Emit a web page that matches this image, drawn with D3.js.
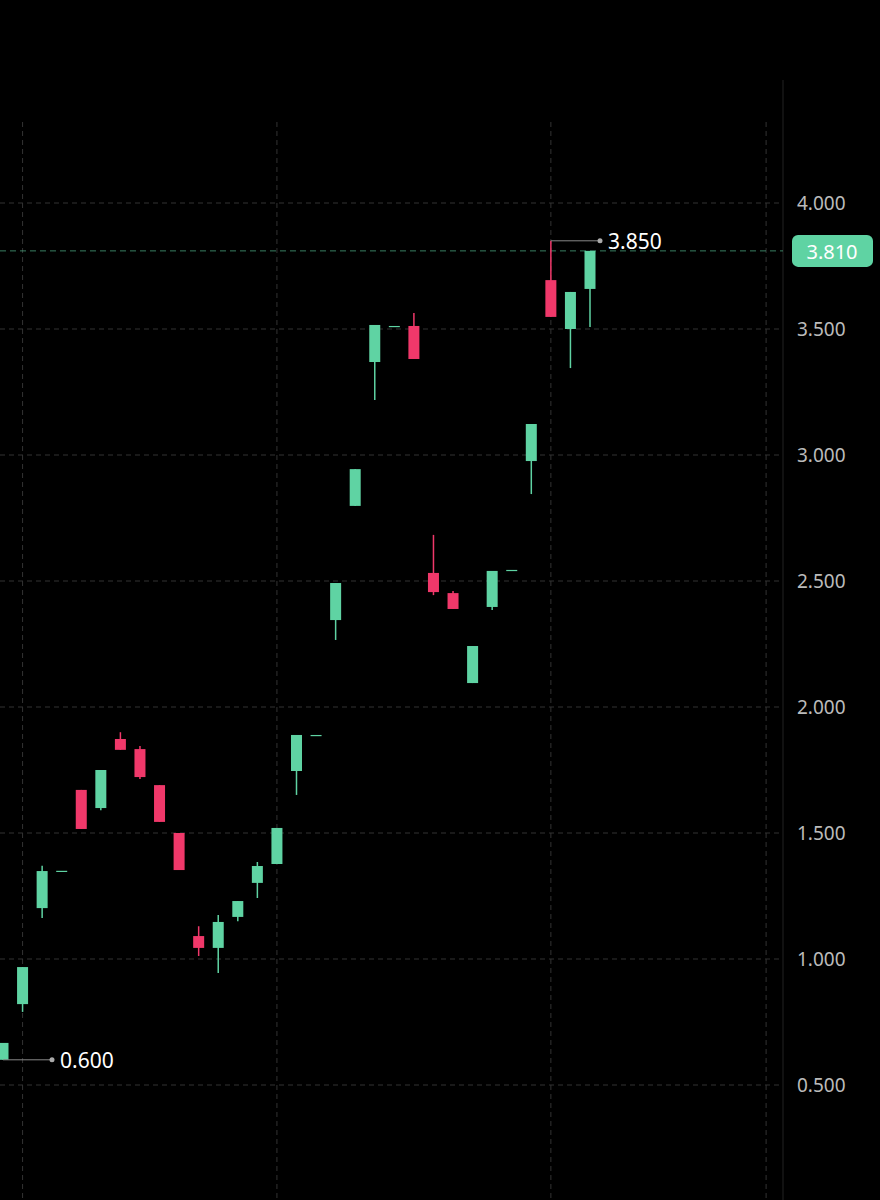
<!DOCTYPE html>
<html><head><meta charset="utf-8">
<script src="https://cdn.jsdelivr.net/npm/d3@7/dist/d3.min.js"></script>
<style>body{margin:0;background:#000}svg{display:block}</style>
</head><body><svg id="c" width="880" height="1200"></svg>
<script>
const opens  = [0.60,0.821,1.202,1.35,1.671,1.599,1.873,1.833,1.69,1.50,1.091,1.044,1.167,1.302,1.377,1.746,1.889,2.345,2.798,3.369,3.512,3.512,2.532,2.452,2.095,2.397,2.544,2.976,3.694,3.50,3.659];
const closes = [0.667,0.968,1.349,1.35,1.516,1.75,1.83,1.722,1.544,1.353,1.044,1.147,1.23,1.369,1.52,1.889,1.889,2.492,2.944,3.516,3.512,3.381,2.456,2.389,2.242,2.54,2.544,3.123,3.548,3.647,3.81];
const highs  = [0.667,0.968,1.37,1.35,1.671,1.75,1.90,1.845,1.69,1.50,1.13,1.175,1.23,1.385,1.52,1.889,1.889,2.492,2.944,3.516,3.512,3.563,2.683,2.46,2.242,2.54,2.544,3.123,3.85,3.647,3.81];
const lows   = [0.60,0.79,1.163,1.35,1.516,1.59,1.83,1.714,1.544,1.353,1.012,0.944,1.15,1.242,1.377,1.651,1.889,2.266,2.798,3.218,3.512,3.381,2.444,2.389,2.095,2.385,2.544,2.845,3.548,3.345,3.508];
const yTicks = [0.5,1.0,1.5,2.0,2.5,3.0,3.5,4.0];
const xGrid  = [1,14,28,39];
const lastPrice = 3.81, maxP = 3.85, maxIdx = 28, minP = 0.60, minIdx = 0;

const svg = d3.select("#c");
const x = d3.scaleLinear().domain([0,30]).range([3,590]);
const y = d3.scaleLinear().domain([0.5,4.0]).range([1085,203]);
const green="#5fd3a3", red="#f0386a";
const fmt = d3.format(".3f");

svg.append("line").attr("x1",783).attr("x2",783).attr("y1",80).attr("y2",1200).attr("stroke","#222");
const gy = svg.append("g");
gy.selectAll("line").data(yTicks).join("line").attr("x1",0).attr("x2",783)
  .attr("y1",d=>y(d)).attr("y2",d=>y(d)).attr("stroke","#333").attr("stroke-dasharray","5,4");
gy.selectAll("text").data(yTicks).join("text").attr("x",797).attr("y",d=>y(d)+7)
  .attr("fill","#bbb").attr("font-family","Noto Sans").attr("font-size",19).text(fmt);
svg.append("g").selectAll("line").data(xGrid).join("line").attr("x1",d=>x(d)).attr("x2",d=>x(d))
  .attr("y1",122).attr("y2",1200).attr("stroke","#333").attr("stroke-dasharray","5,4");

svg.append("line").attr("x1",0).attr("x2",783).attr("y1",y(lastPrice)).attr("y2",y(lastPrice))
  .attr("stroke",green).attr("stroke-opacity",0.6).attr("stroke-dasharray","6,4");
svg.append("rect").attr("x",792).attr("y",y(lastPrice)-16).attr("width",81).attr("height",32).attr("rx",6).attr("fill",green);
svg.append("text").attr("x",832).attr("y",y(lastPrice)+8).attr("text-anchor","middle").attr("fill","#fff")
  .attr("font-family","Noto Sans").attr("font-size",20).text(fmt(lastPrice));

const idx = d3.range(opens.length);
const g = svg.append("g");
g.selectAll("line").data(idx).join("line").attr("x1",i=>x(i)).attr("x2",i=>x(i))
  .attr("y1",i=>y(highs[i])).attr("y2",i=>y(lows[i])).attr("stroke",i=>closes[i]>=opens[i]?green:red).attr("stroke-width",1.5);
g.selectAll("rect").data(idx).join("rect").attr("x",i=>x(i)-5.5).attr("width",11)
  .attr("y",i=>y(Math.max(opens[i],closes[i]))).attr("height",i=>Math.max(1.2,Math.abs(y(opens[i])-y(closes[i]))))
  .attr("fill",i=>closes[i]>=opens[i]?green:red);

function marker(idx,v,tx){
  svg.append("line").attr("x1",x(idx)).attr("x2",tx).attr("y1",y(v)).attr("y2",y(v)).attr("stroke","#888");
  svg.append("circle").attr("cx",tx).attr("cy",y(v)).attr("r",2.5).attr("fill","#aaa");
  svg.append("text").attr("x",tx+8).attr("y",y(v)+8).attr("fill","#fff").attr("font-family","Noto Sans").attr("font-size",21).text(fmt(v));
}
marker(maxIdx,maxP,600);
marker(minIdx,minP,52);
</script></body></html>
